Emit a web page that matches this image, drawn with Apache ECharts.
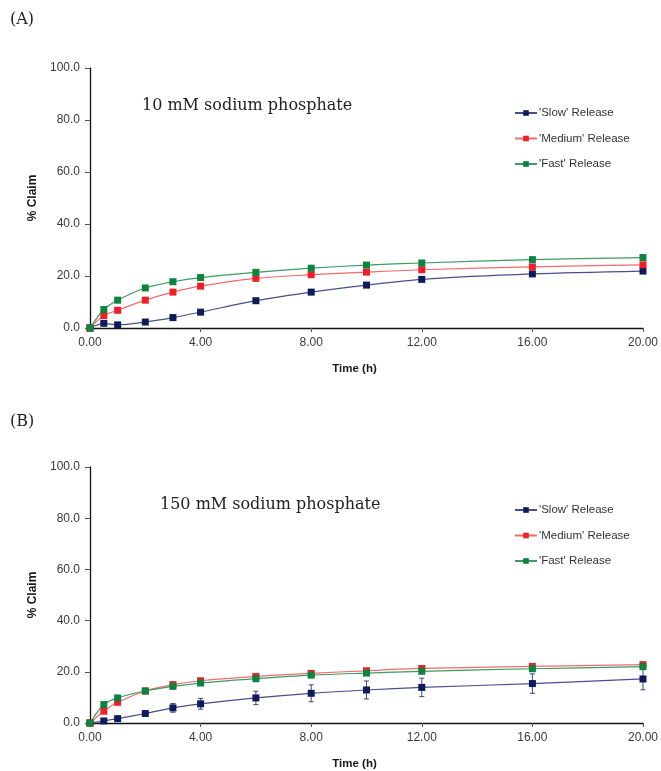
<!DOCTYPE html>
<html>
<head>
<meta charset="utf-8">
<script src="https://cdn.jsdelivr.net/npm/echarts@6/dist/echarts.min.js"></script>
<style>
  html, body { margin: 0; padding: 0; background: #ffffff; }
  #chart { width: 661px; height: 771px; }
</style>
</head>
<body>
<div id="chart"></div>
<script>
// Sampling times (h)
const hours = [0, 0.5, 1, 2, 3, 4, 6, 8, 10, 12, 16, 20];

// Axis ticks
const timeTicks = [0, 4, 8, 12, 16, 20];
const claimTicks = [0, 20, 40, 60, 80, 100];

// Series names
const seriesNames = ["'Slow' Release", "'Medium' Release", "'Fast' Release"];

// (A) 10 mM sodium phosphate, % claim released
const slowA   = [0, 1.8, 1.2, 2.3, 4.0, 6.1, 10.5, 13.8, 16.5, 18.7, 20.8, 21.9];
const mediumA = [0, 4.8, 6.8, 10.7, 13.8, 16.1, 19.1, 20.5, 21.5, 22.4, 23.5, 24.3];
const fastA   = [0, 7.1, 10.7, 15.4, 17.8, 19.4, 21.4, 23.0, 24.2, 25.0, 26.3, 27.1];

// (B) 150 mM sodium phosphate, % claim released
const slowB   = [0, 0.8, 1.7, 3.7, 5.9, 7.5, 9.8, 11.6, 12.9, 13.9, 15.4, 17.2];
const slowErrB = [0, 0.2, 0.3, 0.6, 1.7, 2.1, 2.6, 3.3, 3.5, 3.6, 3.8, 4.2];
const mediumB = [0, 4.6, 8.1, 12.5, 15.0, 16.5, 18.2, 19.4, 20.4, 21.3, 22.1, 22.8];
const fastB   = [0, 7.2, 9.8, 12.5, 14.3, 15.6, 17.3, 18.7, 19.5, 20.2, 21.2, 22.0];

const markerColors = ['#0e1a5c', '#ee1f26', '#0c8440'];
const lineColors = ['#47508a', '#f26a6e', '#3d9b63'];

const pairs = arr => hours.map((t, i) => [t, arr[i]]);

function lineSeries(idx, data, gridIdx) {
  return {
    name: seriesNames[idx],
    type: 'line',
    xAxisIndex: gridIdx,
    yAxisIndex: gridIdx,
    data: pairs(data),
    smooth: 0.3,
    symbol: 'rect',
    symbolSize: 7,
    showAllSymbol: true,
    lineStyle: { color: lineColors[idx], width: 1.2 },
    itemStyle: { color: markerColors[idx] },
    emphasis: { disabled: true },
    z: 3 + idx
  };
}

const gridTops = [68, 467];
const gridHeight = 260;

function xAxisFor(i) {
  return {
    type: 'value',
    gridIndex: i,
    min: timeTicks[0],
    max: timeTicks[timeTicks.length - 1],
    interval: timeTicks[1] - timeTicks[0],
    name: 'Time (h)',
    nameLocation: 'middle',
    nameGap: 35,
    nameTextStyle: {
      fontFamily: 'Liberation Sans', fontSize: 11.5, fontWeight: 'bold', color: '#1a1a1a',
      padding: [0, 24, 0, 0]
    },
    axisLine: { lineStyle: { color: '#111', width: 1.3 } },
    axisTick: { show: true, length: 4, lineStyle: { color: '#555' } },
    axisLabel: {
      fontFamily: 'Liberation Sans', fontSize: 12, color: '#3a3a3a', margin: 9,
      formatter: v => v.toFixed(2)
    },
    splitLine: { show: false }
  };
}

function yAxisFor(i) {
  return {
    type: 'value',
    gridIndex: i,
    min: claimTicks[0],
    max: claimTicks[claimTicks.length - 1],
    interval: claimTicks[1] - claimTicks[0],
    name: '% Claim',
    nameLocation: 'middle',
    nameGap: 51,
    nameTextStyle: { fontFamily: 'Liberation Sans', fontSize: 12, fontWeight: 'bold', color: '#1a1a1a' },
    axisLine: { show: true, lineStyle: { color: '#111', width: 1.3 } },
    axisTick: { show: true, length: 5, lineStyle: { color: '#555' } },
    axisLabel: {
      fontFamily: 'Liberation Sans', fontSize: 12, color: '#3a3a3a', margin: 10,
      formatter: v => v.toFixed(1)
    },
    splitLine: { show: false }
  };
}

function legendFor(top) {
  return {
    orient: 'vertical',
    left: 509,
    top: top,
    itemWidth: 22,
    itemHeight: 7,
    itemGap: 13.5,
    selectedMode: false,
    data: seriesNames,
    textStyle: { fontFamily: 'Liberation Sans', fontSize: 11.5, color: '#333', padding: [0, 0, 0, -3] }
  };
}

const serifTitle = { fontFamily: 'DejaVu Serif', fontWeight: 'normal', color: '#222' };

const option = {
  backgroundColor: '#ffffff',
  animation: false,
  title: [
    { text: '(A)', left: 10, top: 12, padding: 0, textStyle: Object.assign({ fontSize: 16 }, serifTitle) },
    { text: '10 mM sodium phosphate', left: 142, top: 98, padding: 0, textStyle: Object.assign({ fontSize: 16 }, serifTitle) },
    { text: '(B)', left: 10, top: 414, padding: 0, textStyle: Object.assign({ fontSize: 16 }, serifTitle) },
    { text: '150 mM sodium phosphate', left: 160, top: 497, padding: 0, textStyle: Object.assign({ fontSize: 16 }, serifTitle) }
  ],
  legend: [legendFor(102), legendFor(499)],
  grid: gridTops.map(t => ({ left: 90, right: 18, top: t, height: gridHeight })),
  xAxis: [xAxisFor(0), xAxisFor(1)],
  yAxis: [yAxisFor(0), yAxisFor(1)],
  series: [
    lineSeries(0, slowA, 0),
    lineSeries(1, mediumA, 0),
    lineSeries(2, fastA, 0),
    {
      name: 'slowErrorB',
      type: 'custom',
      xAxisIndex: 1,
      yAxisIndex: 1,
      data: hours.map((t, i) => [t, slowB[i] - slowErrB[i], slowB[i] + slowErrB[i]]),
      renderItem: function (params, api) {
        const lo = api.coord([api.value(0), api.value(1)]);
        const hi = api.coord([api.value(0), api.value(2)]);
        const cap = 2.5;
        const style = { stroke: '#3c4680', lineWidth: 1 };
        return {
          type: 'group',
          children: [
            { type: 'line', shape: { x1: lo[0], y1: lo[1], x2: hi[0], y2: hi[1] }, style: style },
            { type: 'line', shape: { x1: lo[0] - cap, y1: lo[1], x2: lo[0] + cap, y2: lo[1] }, style: style },
            { type: 'line', shape: { x1: hi[0] - cap, y1: hi[1], x2: hi[0] + cap, y2: hi[1] }, style: style }
          ]
        };
      },
      z: 2,
      silent: true
    },
    lineSeries(0, slowB, 1),
    lineSeries(1, mediumB, 1),
    lineSeries(2, fastB, 1)
  ]
};

const chart = echarts.init(document.getElementById('chart'), null, { renderer: 'canvas' });
chart.setOption(option);
</script>
</body>
</html>
